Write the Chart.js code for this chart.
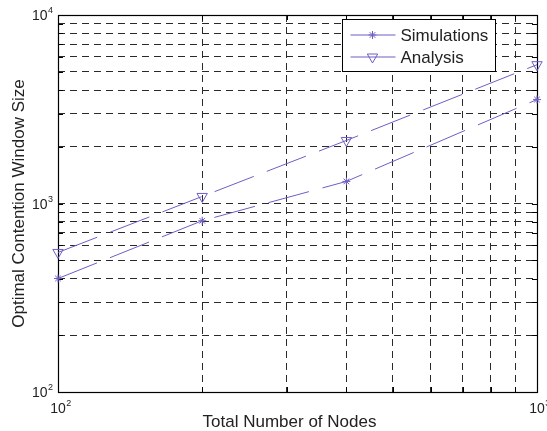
<!DOCTYPE html>
<html><head><meta charset="utf-8">
<script src="https://cdn.jsdelivr.net/npm/chart.js@4.4.0/dist/chart.umd.min.js"></script>
<style>html,body{margin:0;padding:0;background:#fff}#wrap{width:547px;height:431px}</style>
</head><body><div id="wrap"><canvas id="c" width="547" height="431"></canvas></div>
<script>
// ---- data ----
const nodes = [100, 200, 400, 1000];
const simulations = [400, 810, 1310, 3560];
const analysis = [550, 1090, 2160, 5450];
const seriesNames = ['Simulations', 'Analysis'];
const xTicks = [100, 200, 300, 400, 500, 600, 700, 800, 900, 1000];
const yTicks = [100, 200, 300, 400, 500, 600, 700, 800, 900,
                1000, 2000, 3000, 4000, 5000, 6000, 7000, 8000, 9000, 10000];
const xLabelValues = [100, 1000];
const yLabelValues = [100, 1000, 10000];
const xTitle = 'Total Number of Nodes';
const yTitle = 'Optimal Contention Window Size';

const FONT = '"Liberation Sans", Arial, Helvetica, sans-serif';
const LINE = '#6e5ec6';

function pts(ys){ return nodes.map((x,i)=>({x:x, y:ys[i]})); }

const decor = {
  id: 'decor',
  beforeDatasetsDraw(chart){
    const ctx = chart.ctx, a = chart.chartArea;
    const xs = chart.scales.x, ys = chart.scales.y;
    ctx.save();
    // inner ticks
    ctx.strokeStyle = '#000'; ctx.lineWidth = 1; ctx.setLineDash([]);
    ctx.beginPath();
    xTicks.forEach(v=>{
      const p = Math.round(xs.getPixelForValue(v)) + 0.5;
      ctx.moveTo(p, a.bottom); ctx.lineTo(p, a.bottom - 5);
      ctx.moveTo(p, a.top); ctx.lineTo(p, a.top + 5);
    });
    yTicks.forEach(v=>{
      const p = Math.round(ys.getPixelForValue(v)) + 0.5;
      ctx.moveTo(a.left, p); ctx.lineTo(a.left + 5, p);
      ctx.moveTo(a.right, p); ctx.lineTo(a.right - 5, p);
    });
    ctx.stroke();
    // frame
    ctx.lineWidth = 1.2;
    ctx.strokeRect(Math.round(a.left)+0.5, Math.round(a.top)+0.5,
                   Math.round(a.right-a.left), Math.round(a.bottom-a.top));
    ctx.restore();
  },
  afterDraw(chart){
    const ctx = chart.ctx, a = chart.chartArea;
    const xs = chart.scales.x, ys = chart.scales.y;
    ctx.save();
    // tick labels
    ctx.fillStyle = '#222';
    const base = '14px ' + FONT, sup = '9px ' + FONT;
    xLabelValues.forEach(v=>{
      const p = xs.getPixelForValue(v);
      const e = String(Math.round(Math.log10(v)));
      ctx.font = base; const w = ctx.measureText('10').width;
      ctx.textAlign = 'left'; ctx.textBaseline = 'alphabetic';
      ctx.fillText('10', p - w/2, a.bottom + 21);
      ctx.font = sup; ctx.fillText(e, p + w/2 + 0.5, a.bottom + 14);
    });
    yLabelValues.forEach(v=>{
      const p = ys.getPixelForValue(v);
      const e = String(Math.round(Math.log10(v)));
      ctx.font = sup; const we = ctx.measureText(e).width;
      ctx.font = base; const w = ctx.measureText('10').width;
      const right = a.left - 5;
      ctx.textAlign = 'left'; ctx.textBaseline = 'alphabetic';
      ctx.fillText('10', right - we - w - 0.5, p + 5);
      ctx.font = sup; ctx.fillText(e, right - we, p - 2);
    });
    // axis titles
    ctx.font = '17px ' + FONT; ctx.fillStyle = '#222';
    ctx.textAlign = 'center'; ctx.textBaseline = 'alphabetic';
    ctx.fillText(xTitle, (a.left + a.right)/2 - 8, a.bottom + 35);
    ctx.save();
    ctx.translate(24, (a.top + a.bottom)/2);
    ctx.rotate(-Math.PI/2);
    ctx.fillText(yTitle, 0, 0);
    ctx.restore();
    // legend
    const bx = 342.5, by = 19.5, bw = 153, bh = 52;
    ctx.fillStyle = '#fff'; ctx.fillRect(bx, by, bw, bh);
    ctx.strokeStyle = '#000'; ctx.lineWidth = 1; ctx.strokeRect(bx, by, bw, bh);
    chart.data.datasets.forEach((ds, i)=>{
      const y = by + 15.5 + i*22;
      ctx.strokeStyle = ds.borderColor; ctx.lineWidth = 1; ctx.setLineDash([]);
      ctx.beginPath(); ctx.moveTo(bx + 8, y); ctx.lineTo(bx + 53, y); ctx.stroke();
      ctx.fillStyle = ds.pointBackgroundColor; ctx.strokeStyle = ds.pointBorderColor;
      Chart.helpers.drawPoint(ctx, {
        pointStyle: ds.pointStyle, rotation: ds.pointRotation || 0,
        radius: ds.pointRadius, borderWidth: ds.pointBorderWidth
      }, bx + 30, y);
      ctx.fillStyle = '#222'; ctx.font = '17px ' + FONT;
      ctx.textAlign = 'left'; ctx.textBaseline = 'middle';
      ctx.fillText(ds.label, bx + 58, y + 1);
    });
    ctx.restore();
  }
};

new Chart(document.getElementById('c'), {
  type: 'line',
  data: {
    datasets: [
      { label: seriesNames[0], data: pts(simulations), borderColor: LINE, borderWidth: 1,
        borderDash: [42, 14], pointStyle: 'star', pointRadius: 4, pointBorderWidth: 1,
        pointBorderColor: LINE, pointBackgroundColor: LINE, fill: false, tension: 0, clip: false },
      { label: seriesNames[1], data: pts(analysis), borderColor: LINE, borderWidth: 1,
        borderDash: [42, 14], pointStyle: 'triangle', pointRotation: 180, pointRadius: 6,
        pointBorderWidth: 1, pointBorderColor: LINE, pointBackgroundColor: 'rgba(0,0,0,0)',
        fill: false, tension: 0, clip: false }
    ]
  },
  options: {
    responsive: false, animation: false, devicePixelRatio: 1,
    layout: { padding: { left: 58, right: 10, top: 15, bottom: 39 } },
    plugins: { legend: { display: false }, tooltip: { enabled: false } },
    scales: {
      x: {
        type: 'logarithmic', min: 100, max: 1000,
        afterBuildTicks(s){ s.ticks = xTicks.map(v=>({value:v})); },
        afterFit(s){ s.height = 0; },
        ticks: { display: false },
        grid: { color: '#2a2a2a', lineWidth: 1, drawTicks: false },
        border: { display: false, dash: [7, 5] }
      },
      y: {
        type: 'logarithmic', min: 100, max: 10000,
        afterBuildTicks(s){ s.ticks = yTicks.map(v=>({value:v})); },
        afterFit(s){ s.width = 0; },
        ticks: { display: false },
        grid: { color: '#2a2a2a', lineWidth: 1, drawTicks: false },
        border: { display: false, dash: [7, 5] }
      }
    }
  },
  plugins: [decor]
});
</script>
</body></html>
